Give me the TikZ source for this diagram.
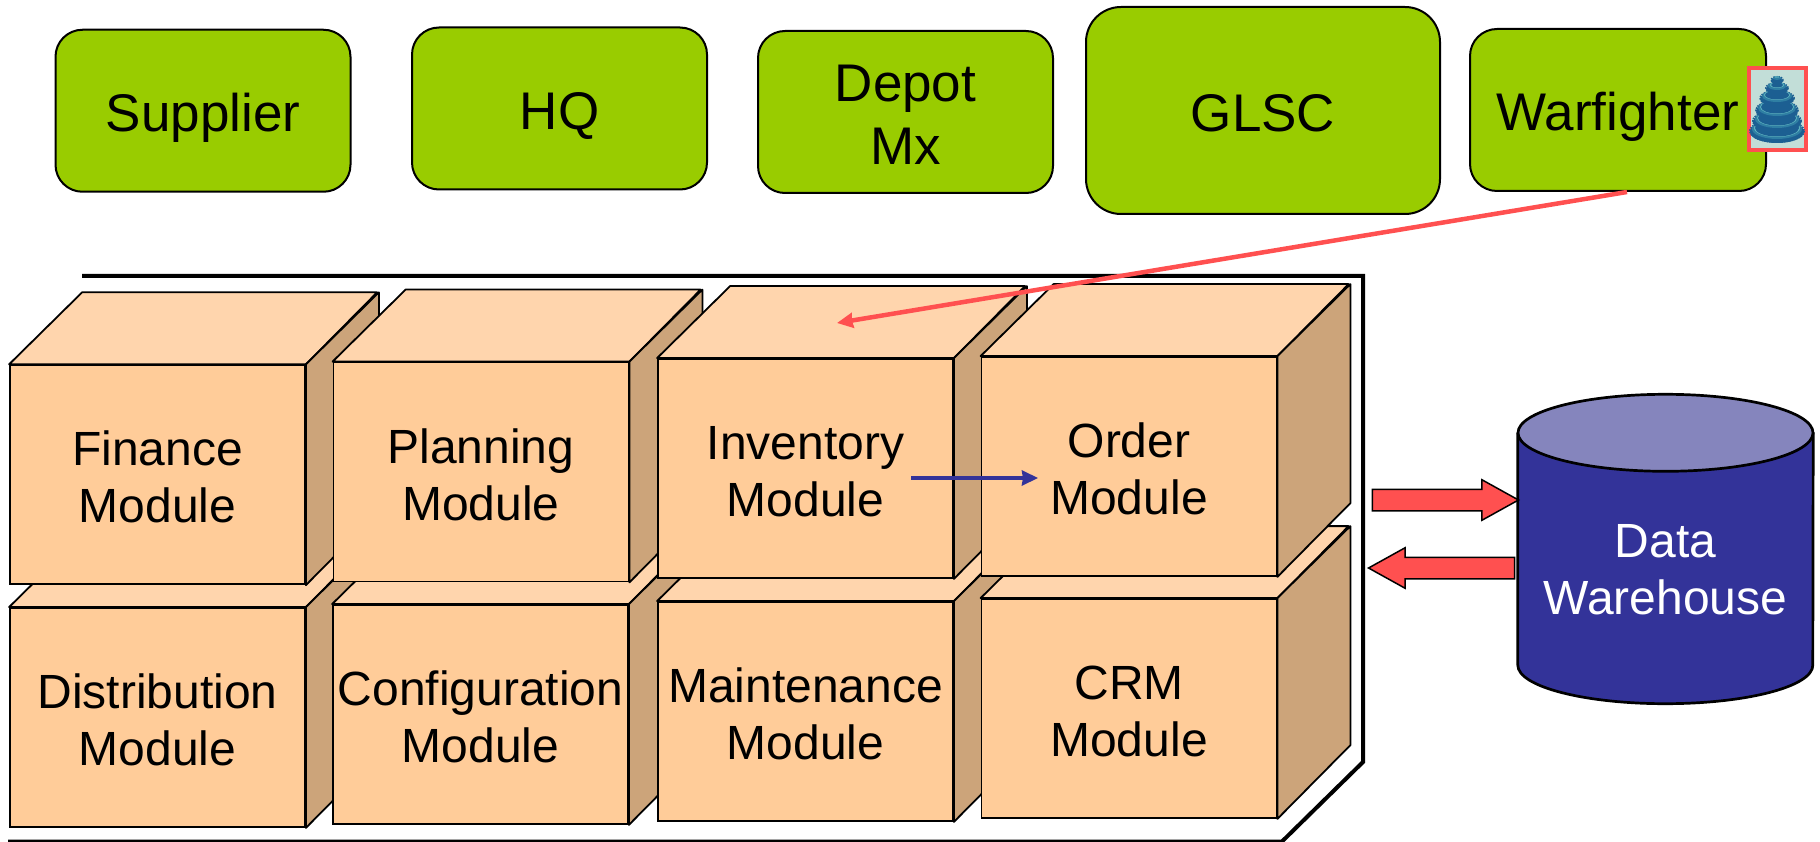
\documentclass[tikz,border=0pt]{standalone}
\usepackage{fontspec}
\setmainfont{Liberation Sans}
\usetikzlibrary{shapes.arrows, arrows.meta}

\definecolor{actorgreen}{HTML}{99CC00}
\definecolor{modulefront}{HTML}{FFCC99}
\definecolor{moduletop}{HTML}{FFD5AD}
\definecolor{moduleside}{HTML}{CCA47A}
\definecolor{dwblue}{HTML}{333399}
\definecolor{dwtop}{HTML}{8585BD}
\definecolor{linkred}{HTML}{FF5050}
\definecolor{gearpale}{HTML}{C2DED8}
\definecolor{geardark}{HTML}{1C5F92}
\definecolor{gearmid}{HTML}{2F7FA3}
\definecolor{gearlight}{HTML}{5FB4C0}

\tikzstyle{actor} = [rectangle, rounded corners=27pt, minimum width=295pt, minimum
height=162pt, inner sep=0pt, text centered, align=center, draw=black, line width=2pt, fill=actorgreen,
font=\fontsize{53}{63}\selectfont, text height=42pt, text depth=0pt]
\tikzstyle{module} = [rectangle, minimum width=295pt, minimum height=219pt, inner sep=0pt,
text centered, align=center, draw=black, line width=1.8pt, fill=modulefront,
font=\fontsize{48}{57}\selectfont, text height=96pt, text depth=0pt]
\tikzstyle{facetop} = [draw=black, line width=1.8pt, line join=round, fill=moduletop]
\tikzstyle{faceside} = [draw=black, line width=1.8pt, line join=round, fill=moduleside]
\tikzstyle{dwface} = [draw=black, line width=2.7pt, line join=round]
\tikzstyle{fatarrow} = [single arrow, single arrow head extend=9.5pt, single arrow head indent=0pt,
single arrow tip angle=58, minimum height=146pt, inner xsep=0pt, inner ysep=10pt, draw=black, line width=1.5pt, fill=linkred]
\tikzstyle{arrow} = [line width=4.5pt, -{Stealth[length=16pt, width=15pt, inset=1pt]}]

\newcommand{\moduleback}[1]{
  \draw [facetop] (#1.north west) -- ++(73,-72) -- ++(295,0) -- (#1.north east) -- cycle;
  \draw [faceside] (#1.north east) -- ++(73,-72) -- ++(0,219) -- (#1.south east) -- cycle;
}

\begin{document}
\begin{tikzpicture}[x=1pt, y=-1pt, node distance=320pt]

  \useasboundingbox (0,0) rectangle (1820,842);

  \node (supplier) [actor] at (203,110.75) {Supplier};
  \node (hq) [actor, right of=supplier, xshift=36.5pt, yshift=2.25pt] {HQ};
  \node (depot) [actor, right of=hq, xshift=26pt, yshift=-3.5pt, text height=106pt] {Depot\\Mx};
  \node (glsc) [actor, right of=depot, xshift=37.5pt, yshift=1.5pt, minimum width=354pt, minimum height=207pt, rounded corners=35pt] {GLSC};
  \node (warfighter) [actor, right of=glsc, xshift=35pt, yshift=0.5pt, minimum width=296pt] {Warfighter};

  \node (gearicon) [rectangle, minimum width=57pt, minimum height=82pt, inner sep=0pt, draw=linkred, line width=4pt, fill=gearpale] at (1777.5,109) {};
  \foreach \cy/\rx/\ry in {129/27/11, 119/24/10, 108/21/9, 96/17/7, 86/11/5, 78/6/3} {
    \fill [geardark] (1777,\cy+3) ellipse ({\rx} and {\ry});
    \draw [geardark, line width=2pt, dash pattern=on 1.5pt off 1pt] (1777,\cy+2) ellipse ({\rx} and {\ry});
    \fill [gearmid] (1777,\cy) ellipse ({\rx-2} and {\ry-1});
    \fill [gearlight] (1777,\cy-1) ellipse ({\rx-4} and {\ry-2});
    \fill [geardark] (1777,\cy-1) ellipse ({\rx-5} and {\ry-2.5});
  }

  \draw [line width=4pt, line join=miter] (82,276) -- (1363,276) -- (1363,762) -- (1282,841.5) -- (8,841.5);

  \node (distribution) [module] at (157.5,717.5) {Distribution\\Module};
  \moduleback{distribution}
  \node (configuration) [module, right of=distribution, xshift=3pt, yshift=3pt] {Configuration\\Module};
  \moduleback{configuration}
  \node (maintenance) [module, right of=configuration, xshift=5pt, yshift=3pt] {Maintenance\\Module};
  \moduleback{maintenance}
  \node (crm) [module, right of=maintenance, xshift=3.5pt, yshift=3pt] {CRM\\Module};
  \moduleback{crm}

  \node (finance) [module, above of=distribution, yshift=-77.25pt] {Finance\\Module};
  \moduleback{finance}
  \node (planning) [module, right of=finance, xshift=3.5pt, yshift=2.75pt] {Planning\\Module};
  \moduleback{planning}
  \node (inventory) [module, right of=planning, xshift=4.5pt, yshift=3.5pt] {Inventory\\Module};
  \moduleback{inventory}
  \node (order) [module, right of=inventory, xshift=3.5pt, yshift=2pt] {Order\\Module};
  \moduleback{order}

  \node (dw) [rectangle, minimum width=295pt, minimum height=232pt, inner sep=0pt] at (1665.5,549) {};
  \draw [dwface, fill=dwblue] (dw.north west) -- (dw.south west) arc (180:360:147.5pt and 38.5pt) -- (dw.north east) -- cycle;
  \draw [dwface, fill=dwtop] (dw.north) ellipse (147.5pt and 38.5pt);
  \node (dwtext) [text=white, align=center, font=\fontsize{48}{57}\selectfont] at (1665.5,570) {Data\\Warehouse};

  \node (toDw) [fatarrow, anchor=tip] at (1520,500) {};
  \node (fromDw) [fatarrow, anchor=tip, shape border rotate=180] at (1367,568) {};

  \coordinate (invTop) at (837,323);

  \draw [arrow, linkred] ([xshift=9pt]warfighter.south) -- (invTop);
  \draw [arrow, dwblue] ([xshift=105.5pt, yshift=-9.5pt]inventory.center) -- ([xshift=-91pt, yshift=-11.5pt]order.center);

\end{tikzpicture}
\end{document}
